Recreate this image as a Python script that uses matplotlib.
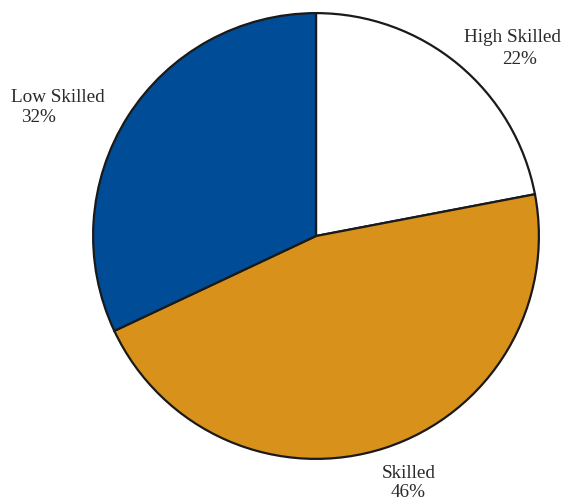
import matplotlib
matplotlib.use("Agg")
import matplotlib.pyplot as plt

categories = ["High Skilled", "Skilled", "Low Skilled"]
shares = [22, 46, 32]
colors = ["#FFFFFF", "#D8911A", "#004C97"]

W, H = 563, 502
fig = plt.figure(figsize=(W / 100, H / 100), dpi=100)
cx, cy, r = 316, 237, 224
ax = fig.add_axes([(cx - r) / W, (H - cy - r) / H, 2 * r / W, 2 * r / H])
ax.pie(shares, colors=colors, startangle=90, counterclock=False,
       wedgeprops=dict(edgecolor="#1a1a1a", linewidth=1.6), radius=1.0)
ax.set_xlim(-1.005, 1.005)
ax.set_ylim(-1.005, 1.005)
ax.axis("off")

font = dict(family="Liberation Serif", fontsize=13.8, color="#2b2b2b", ha="center", va="center")

# category name and share, positioned by the slice they describe
label_pos = {
    "High Skilled": ((513, 37), (520, 60)),
    "Skilled": ((409, 473), (408, 493)),
    "Low Skilled": ((58, 97), (39, 117)),
}
for name, val in zip(categories, shares):
    (nx, ny), (vx, vy) = label_pos[name]
    fig.text(nx / W, 1 - ny / H, name, **font)
    fig.text(vx / W, 1 - vy / H, f"{val}%", **font)

fig.savefig("out.png", dpi=100)
